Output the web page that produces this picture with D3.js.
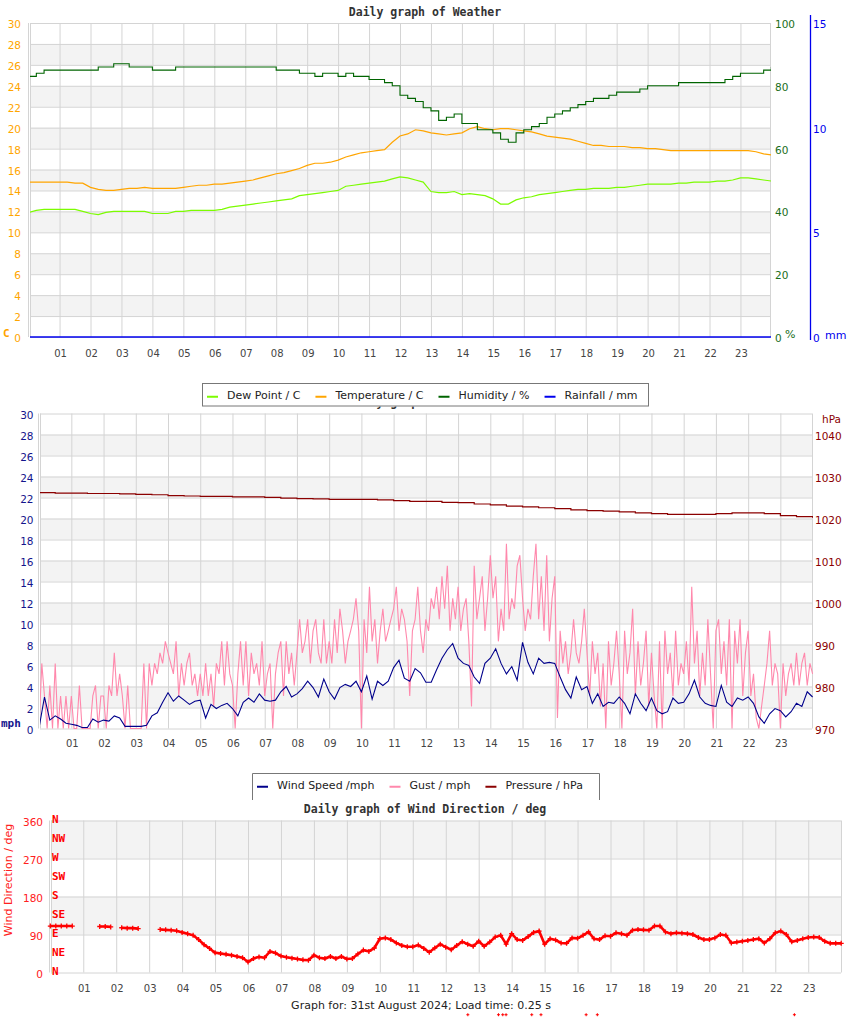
<!DOCTYPE html>
<html><head><meta charset="utf-8">
<script src="https://cdn.jsdelivr.net/npm/d3@7/dist/d3.min.js"></script>
<style>
body{margin:0;background:#fff;}
svg{display:block;font-family:"DejaVu Sans",sans-serif;}
</style>
</head><body>
<svg id="chart" width="850" height="1017"></svg>
<script>
// ---------------- DATA ----------------
const hourTicks = d3.range(1, 24);
const hourLabels = ["01","02","03","04","05","06","07","08","09","10","11","12","13","14","15","16","17","18","19","20","21","22","23"];
const tempTicks = [0,2,4,6,8,10,12,14,16,18,20,22,24,26,28,30];
const humTicks = [0,20,40,60,80,100];
const rainTicks = [0,5,10,15];
const mphTicks = [0,2,4,6,8,10,12,14,16,18,20,22,24,26,28,30];
const hpaTicks = [970,980,990,1000,1010,1020,1030,1040];
const dirTicks = [0,90,180,270,360];
const compassLabels = ["N","NE","E","SE","S","SW","W","NW","N"];
const compassValues = [0,45,90,135,180,225,270,315,360];

// 15-minute readings (00:00 .. 24:00)
const temperature = [
 14.8,14.8,14.8,14.8, 14.8,14.8,14.7,14.7, 14.3,14.1,14.0,14.0, 14.1,14.2,14.2,14.3,
 14.2,14.2,14.2,14.2, 14.3,14.4,14.5,14.5, 14.6,14.6,14.7,14.8, 14.9,15.0,15.2,15.4,
 15.6,15.7,15.9,16.1, 16.4,16.6,16.6,16.7, 16.9,17.2,17.4,17.6, 17.7,17.8,17.9,18.6,
 19.2,19.4,19.8,19.7, 19.5,19.4,19.3,19.4, 19.5,19.9,20.1,19.9, 19.8,19.9,19.9,19.8,
 19.7,19.6,19.4,19.2, 19.1,19.0,18.9,18.7, 18.5,18.3,18.3,18.2, 18.2,18.2,18.1,18.1,
 18.0,18.0,17.9,17.8, 17.8,17.8,17.8,17.8, 17.8,17.8,17.8,17.8, 17.8,17.8,17.7,17.5,
 17.4];
const dewPoint = [
 11.9,12.1,12.2,12.2, 12.2,12.2,12.2,12.0, 11.8,11.7,11.9,12.0, 12.0,12.0,12.0,12.0,
 11.8,11.8,11.8,12.0, 12.0,12.1,12.1,12.1, 12.1,12.2,12.4,12.5, 12.6,12.7,12.8,12.9,
 13.0,13.1,13.2,13.5, 13.6,13.7,13.8,13.9, 14.0,14.4,14.5,14.6, 14.7,14.8,14.9,15.1,
 15.3,15.2,15.0,14.8, 13.9,13.8,13.8,13.9, 13.6,13.7,13.6,13.5, 13.2,12.7,12.7,13.1,
 13.3,13.4,13.6,13.7, 13.8,13.9,14.0,14.1, 14.1,14.2,14.2,14.2, 14.3,14.3,14.4,14.5,
 14.6,14.6,14.6,14.6, 14.7,14.7,14.8,14.8, 14.8,14.9,14.9,15.0, 15.2,15.2,15.1,15.0,
 14.9];
const humidity = [
 83,84,85,85, 85,85,85,85, 85,86,86,87, 87,86,86,86, 85,85,85,86, 86,86,86,86,
 86,86,86,86, 86,86,86,86, 85,85,85,84, 84,83,84,84, 83,84,83,83, 82,82,81,80,
 77,76,75,73, 72,69,70,71, 68,68,66,66, 65,63,62,65, 66,67,68,70, 71,72,73,74,
 75,76,76,77, 78,78,78,79, 80,80,80,80, 81,81,81,81, 81,81,82,83, 84,84,84,85,
 86];
// hourly rainfall (mm)
const rainfall = [0,0,0,0,0,0,0,0,0,0,0,0,0,0,0,0,0,0,0,0,0,0,0,0,0];

// 10-minute wind speed (mph)
const windSpeed = [
 0.1,3.0,0.8,1.2,0.9,0.5, 0.4,0.3,0.1,0.1,0.9,0.6, 0.8,0.7,1.2,1.0,0.2,0.2,
 0.2,0.2,0.3,1.2,1.5,2.5, 3.4,2.6,3.1,2.7,2.3,2.6, 2.7,1.0,2.3,1.9,2.2,2.4,
 1.9,1.2,2.5,2.9,2.5,3.3, 2.7,2.6,2.7,3.5,4.0,3.0, 3.3,3.8,4.5,3.9,3.0,4.7,
 3.5,2.8,3.9,4.2,4.0,4.5, 3.5,5.0,2.8,4.5,4.1,4.5, 5.8,6.5,4.8,4.5,5.7,5.3,
 4.4,4.4,5.6,6.7,7.5,8.1, 6.7,6.2,6.0,4.9,4.3,6.2, 6.7,7.6,6.2,5.2,5.9,4.6,
 8.2,6.3,5.2,6.7,6.2,6.3, 6.2,4.9,3.7,2.9,4.9,3.7, 4.0,2.4,3.3,2.1,2.5,2.4,
 3.0,2.4,1.4,3.3,2.4,1.7, 2.9,1.7,1.4,1.6,2.9,2.4, 2.5,3.3,4.6,3.0,2.4,2.2,
 2.1,4.1,2.5,2.1,2.9,2.7, 3.0,2.4,1.1,0.5,1.4,1.9, 1.7,1.1,1.6,2.4,2.1,3.5,
 3.0];
// 5-minute gust (mph)
const windGust = [
 0,6.2,3.1,0,4.1,0,6.2,0,3.1,0,3.1,0,
 3.1,0,0,4.1,0,0,0,0,3.1,4.1,0,3.1,
 3.1,0,4.1,3.1,7.2,3.1,5.2,3.1,0,4.1,0,0,
 0,0,0,6.2,0,6.2,4.1,6.2,5.2,7.2,6.2,8.3,
 7.2,6.2,5.2,8.3,3.1,6.2,4.1,6.2,7.2,4.1,5.2,3.1,
 5.2,3.1,6.2,3.1,5.2,2.1,6.2,5.2,8.3,4.1,8.3,5.2,
 4.1,0,5.2,8.3,4.1,8.3,3.1,7.2,5.2,6.2,4.1,8.3,
 3.1,5.2,6.2,0,5.2,7.2,8.3,3.1,8.3,5.2,7.2,4.1,
 7.2,10.4,7.2,8.3,10.4,6.2,9.3,10.4,7.2,6.2,10.4,6.2,
 8.3,6.2,10.4,7.2,11.4,9.3,6.2,8.3,9.3,10.4,12.4,9.3,
 0,10.4,7.2,13.5,8.3,10.4,6.2,9.3,11.4,8.3,9.3,10.4,
 11.4,13.5,9.3,11.4,10.4,8.3,3.1,9.3,10.4,13.5,9.3,7.2,
 10.4,9.3,12.4,11.4,13.5,10.4,14.5,11.4,15.5,9.3,12.4,10.4,
 13.5,9.3,11.4,12.4,8.3,2.1,15.5,10.4,12.4,14.5,9.3,12.4,
 16.5,12.4,14.5,8.3,11.4,9.3,17.6,10.4,12.4,11.4,15.5,16.5,
 12.4,9.3,11.4,10.4,14.5,17.6,10.4,14.5,9.3,16.5,8.3,12.4,
 14.5,1.0,9.3,6.2,8.3,5.2,7.2,10.4,7.2,6.2,8.3,11.4,
 7.2,3.1,8.3,5.2,7.2,2.1,6.2,0,8.3,4.1,6.2,9.3,
 5.2,0,9.3,5.2,7.2,11.4,3.1,8.3,4.1,6.2,9.3,2.1,
 7.2,3.1,0,8.3,0,9.3,5.2,7.2,3.1,9.3,4.1,6.2,
 5.2,8.3,4.1,13.5,6.2,9.3,3.1,7.2,4.1,10.4,5.2,0,
 9.3,10.4,5.2,8.3,4.1,10.4,0,9.3,6.2,10.4,3.1,7.2,
 9.3,3.1,5.2,1.0,0,2.1,4.1,6.2,9.3,4.1,6.2,5.2,
 0,6.2,3.1,5.2,6.2,4.1,7.2,4.1,6.2,7.2,4.1,6.2,
 5.2];
// 30-minute pressure (hPa)
const pressure = [
 1026.3,1026.2,1026.2,1026.1,1026.1,1026.0,1025.9,1025.8,1025.6,1025.5,
 1025.4,1025.4,1025.3,1025.3,1025.2,1025.0,1024.9,1024.8,1024.7,1024.7,
 1024.7,1024.6,1024.4,1024.2,1024.2,1024.0,1023.9,1023.6,1023.4,1023.1,
 1022.9,1022.7,1022.5,1022.2,1022.0,1021.9,1021.7,1021.5,1021.3,1021.1,
 1021.1,1021.1,1021.3,1021.5,1021.5,1021.3,1020.8,1020.6,1020.3];
// 10-minute wind direction (deg), null = no reading
const windDir = [
 110,110,110,110,110,null, null,null,null,109,109,108, null,106,105,105,104,null,
 null,null,102,101,100,99, 95,92,88,78,66,57, 47,45,43,41,38,35,
 25,33,37,35,50,46, 39,36,34,32,30,29, 41,35,33,38,33,38,
 32,33,44,53,50,58, 80,82,78,70,64,61, 61,65,57,48,58,67,
 60,54,64,73,67,62, 74,62,72,84,88,67, 92,78,76,85,95,98,
 67,80,77,70,69,82, 81,88,96,80,78,87, 86,94,92,88,100,102,
 101,100,110,110,96,92, 94,93,92,90,83,78, 78,82,90,88,70,72,
 74,76,78,80,70,80, 94,98,90,73,76,80, 83,84,83,74,69,69,
 69];
// stray out-of-range direction readings
const strayDirHours = [12.67,13.6,13.73,13.83,14.61,14.89,16.26,16.6,22.58];
const strayDirValues = [-100,-100,-100,-100,-100,-100,-100,-100,-100];

// ---------------- DRAW ----------------
const svg = d3.select("#chart");
svg.append("rect").attr("width",850).attr("height",1017).attr("fill","#fff");
const GRID = "#d4d4d4", BAND = "#f3f3f3";
const mono = "'DejaVu Sans Mono', monospace";

function series(arr, minutes){ return arr.map((v,i)=>({h:i*minutes/60, v:v})); }

function frame(g, x, y, ticks, L, R, T, B){
  const bands = ticks.map((t,i)=>[t, ticks[i+1], i]).filter(d=> d[2]%2===1 && d[1]!==undefined);
  g.append("g").selectAll("rect").data(bands).join("rect")
    .attr("x",L).attr("width",R-L).attr("y",d=>y(d[1])).attr("height",d=>y(d[0])-y(d[1])).attr("fill",BAND);
  g.append("g").attr("transform",`translate(${L},0)`)
    .call(d3.axisLeft(y).tickValues(ticks).tickSize(-(R-L)).tickFormat(""))
    .call(a=>{a.select(".domain").remove(); a.selectAll("line").attr("stroke",GRID);});
  g.append("g").attr("transform",`translate(0,${B})`)
    .call(d3.axisBottom(x).tickValues(hourTicks).tickSize(-(B-T)).tickFormat(""))
    .call(a=>{a.select(".domain").remove(); a.selectAll("line").attr("stroke",GRID);});
  g.append("line").attr("x1",L-1.5).attr("x2",L-1.5).attr("y1",T).attr("y2",B).attr("stroke",GRID);
  g.append("line").attr("x1",L+0.5).attr("x2",L+0.5).attr("y1",T).attr("y2",B).attr("stroke",GRID);
  g.append("line").attr("x1",R+0.5).attr("x2",R+0.5).attr("y1",T).attr("y2",B).attr("stroke",GRID);
}
function xLabels(g, x, yy){
  g.append("g").selectAll("text").data(hourTicks).join("text")
    .attr("x",d=>x(d)+1).attr("y",yy).attr("text-anchor","middle").attr("dominant-baseline","central")
    .attr("font-size",10).attr("fill","#444").text((d,i)=>hourLabels[i]);
}
function yLabels(g, y, ticks, xx, anchor, color, fmt, size){
  g.append("g").selectAll("text").data(ticks).join("text")
    .attr("x",xx).attr("y",d=>y(d)+1).attr("text-anchor",anchor).attr("dominant-baseline","central")
    .attr("font-size",size||10.5).attr("fill",color).text(fmt||(d=>d));
}
function clip(id,L,R,T,B){
  svg.append("clipPath").attr("id",id).append("rect").attr("x",L).attr("y",T-1).attr("width",R-L+1).attr("height",B-T+2);
}
function legend(items, L, R, T, B, openBottom){
  const g = svg.append("g");
  g.append("rect").attr("x",L).attr("y",T).attr("width",R-L).attr("height",B-T+0.5).attr("fill","#fff").attr("stroke","none");
  if(openBottom){
    g.append("path").attr("d",`M${L},${B+4}V${T}H${R}V${B+4}`).attr("fill","none").attr("stroke","#777");
  } else {
    g.append("rect").attr("x",L).attr("y",T).attr("width",R-L).attr("height",B-T).attr("fill","none").attr("stroke","#777");
  }
  let cx = L + 4.5;
  const cy = (T+B)/2;
  items.forEach(it=>{
    g.append("line").attr("x1",cx).attr("x2",cx+11).attr("y1",cy+2).attr("y2",cy+2).attr("stroke",it.c).attr("stroke-width",2);
    const t = g.append("text").attr("x",cx+20).attr("y",cy+1).attr("dominant-baseline","central")
      .attr("font-size",11).attr("fill","#222").text(it.t);
    cx = cx + 20 + t.node().getComputedTextLength() + 15;
  });
}

// ===== Chart 1: Weather =====
{
  const L=30, R=770, T=23, B=337;
  const x = d3.scaleLinear().domain([0,24]).range([28.6,771.4]);
  const yT = d3.scaleLinear().domain([0,30]).range([B,T]);
  const yH = d3.scaleLinear().domain([0,100]).range([B,T]);
  const yR = d3.scaleLinear().domain([0,15]).range([B,T]);
  const g = svg.append("g");
  frame(g,x,yT,tempTicks,L,R,T,B);
  clip("c1",L,R,T,B);
  const p = g.append("g").attr("clip-path","url(#c1)");
  const lin = d3.line().x(d=>x(d.h)).y(d=>yT(d.v));
  p.append("path").datum(series(dewPoint,15)).attr("d",lin).attr("fill","none").attr("stroke","#7cfc00").attr("stroke-width",1.2);
  p.append("path").datum(series(temperature,15)).attr("d",lin).attr("fill","none").attr("stroke","#ffa500").attr("stroke-width",1.2);
  p.append("path").datum(series(humidity,15)).attr("d",d3.line().curve(d3.curveStepAfter).x(d=>x(d.h)).y(d=>yH(d.v)))
    .attr("fill","none").attr("stroke","#006400").attr("stroke-width",1.1);
  p.append("path").datum(series(rainfall,60)).attr("d",d3.line().x(d=>x(d.h)).y(d=>yR(d.v)))
    .attr("fill","none").attr("stroke","#0000ee").attr("stroke-width",1.5);
  g.append("line").attr("x1",810.5).attr("x2",810.5).attr("y1",T-8).attr("y2",B+3).attr("stroke","#0000ee").attr("stroke-width",1.3);
  yLabels(g,yT,tempTicks,21,"end","#ffa500");
  yLabels(g,yH,humTicks,775,"start","#1a6e1a");
  yLabels(g,yR,rainTicks,813,"start","#0000ee");
  xLabels(g,x,353.5);
  g.append("text").attr("x",425).attr("y",16).attr("text-anchor","middle").attr("font-family",mono)
    .attr("font-weight","bold").attr("font-size",11.5).attr("fill","#333").text("Daily graph of Weather");
  g.append("text").attr("x",3).attr("y",333).attr("dominant-baseline","central").attr("font-family",mono)
    .attr("font-weight","bold").attr("font-size",11).attr("fill","#ffa500").text("C");
  g.append("text").attr("x",785).attr("y",334).attr("dominant-baseline","central")
    .attr("font-size",11).attr("fill","#1a6e1a").text("%");
  g.append("text").attr("x",825).attr("y",335).attr("dominant-baseline","central")
    .attr("font-size",11).attr("fill","#0000ee").text("mm");
}

// ===== Chart 2: Wind / Pressure =====
{
  const L=40, R=812, T=413.5, B=728.5;
  const x = d3.scaleLinear().domain([0,24]).range([39.1,812.6]);
  const yM = d3.scaleLinear().domain([0,30]).range([B,T]);
  const yP = d3.scaleLinear().domain([970,1045.2]).range([B,T]);
  const g = svg.append("g");
  g.append("text").attr("x",425).attr("y",406).attr("text-anchor","middle").attr("font-family",mono)
    .attr("font-weight","bold").attr("font-size",11.5).attr("fill","#333").text("Daily graph of Weather");
  frame(g,x,yM,mphTicks,L,R,T,B);
  clip("c2",L,R,T,B);
  const p = g.append("g").attr("clip-path","url(#c2)");
  const lin = d3.line().x(d=>x(d.h)).y(d=>yM(d.v));
  p.append("path").datum(series(windGust,5)).attr("d",lin).attr("fill","none").attr("stroke","#ff88ac").attr("stroke-width",1.1);
  p.append("path").datum(series(windSpeed,10)).attr("d",lin).attr("fill","none").attr("stroke","#00008b").attr("stroke-width",1.1);
  p.append("path").datum(series(pressure,30)).attr("d",d3.line().curve(d3.curveStepAfter).x(d=>x(d.h)).y(d=>yP(d.v)))
    .attr("fill","none").attr("stroke","#8b0000").attr("stroke-width",1.2);
  yLabels(g,yM,mphTicks,33.5,"end","#14148c");
  yLabels(g,yP,hpaTicks,815,"start","#8b0000");
  xLabels(g,x,743);
  g.append("text").attr("x",822).attr("y",419).attr("dominant-baseline","central")
    .attr("font-size",10.5).attr("fill","#8b0000").text("hPa");
  g.append("text").attr("x",1).attr("y",723).attr("dominant-baseline","central").attr("font-family",mono)
    .attr("font-weight","bold").attr("font-size",11).attr("fill","#14148c").text("mph");
}

legend([{t:"Dew Point / C",c:"#7cfc00"},{t:"Temperature / C",c:"#ffa500"},{t:"Humidity / %",c:"#006400"},{t:"Rainfall / mm",c:"#0000ee"}],
  202.5, 648.5, 383.5, 406, false);

// ===== Chart 3: Wind Direction =====
{
  const L=51, R=841, T=820.5, B=972.5;
  const x = d3.scaleLinear().domain([0,24]).range([50.3,841.2]);
  const y = d3.scaleLinear().domain([0,360]).range([B,T]);
  const g = svg.append("g");
  g.append("rect").attr("x",0).attr("y",797).attr("width",850).attr("height",20).attr("fill","#fff");
  frame(g,x,y,dirTicks,L,R,T,B);
  const pts = series(windDir,10);
  g.append("path").datum(pts).attr("d",d3.line().defined(d=>d.v!==null).x(d=>x(d.h)).y(d=>y(d.v)))
    .attr("fill","none").attr("stroke","#ff0000").attr("stroke-width",2.6);
  const cross = "M-2.5,0H2.5M0,-2.5V2.5";
  g.append("g").selectAll("path").data(pts.filter(d=>d.v!==null)).join("path")
    .attr("transform",d=>`translate(${x(d.h)},${y(d.v)})`).attr("d",cross).attr("stroke","#ff0000").attr("stroke-width",1.3);
  g.append("g").selectAll("path").data(strayDirHours.map((h,i)=>({h:h,v:strayDirValues[i]}))).join("path")
    .attr("transform",d=>`translate(${x(d.h)},${y(d.v)})`).attr("d","M-1.5,0H1.5M0,-1.5V1.5").attr("stroke","#ff0000").attr("stroke-width",1);
  yLabels(g,y,dirTicks,43,"end","#ff2020");
  g.append("g").selectAll("text").data(compassValues).join("text")
    .attr("x",52).attr("y",(d)=>y(d)-1.5).attr("dominant-baseline","central").attr("font-family",mono)
    .attr("font-weight","bold").attr("font-size",11).attr("fill","#ff0000").text((d,i)=>compassLabels[i]);
  xLabels(g,x,988);
  g.append("text").attr("transform","translate(12,880) rotate(-90)").attr("text-anchor","middle")
    .attr("font-size",11).attr("fill","#ff2020").text("Wind Direction / deg");
  g.append("text").attr("x",425).attr("y",812.5).attr("text-anchor","middle").attr("font-family",mono)
    .attr("font-weight","bold").attr("font-size",11.5).attr("fill","#333").text("Daily graph of Wind Direction / deg");
  g.append("text").attr("x",421).attr("y",1005).attr("text-anchor","middle").attr("dominant-baseline","central")
    .attr("font-size",11).attr("fill","#222").text("Graph for: 31st August 2024; Load time: 0.25 s");
}

legend([{t:"Wind Speed /mph",c:"#00008b"},{t:"Gust / mph",c:"#ff88ac"},{t:"Pressure / hPa",c:"#8b0000"}],
  252.5, 599.5, 773.5, 796, true);
</script>
</body></html>
